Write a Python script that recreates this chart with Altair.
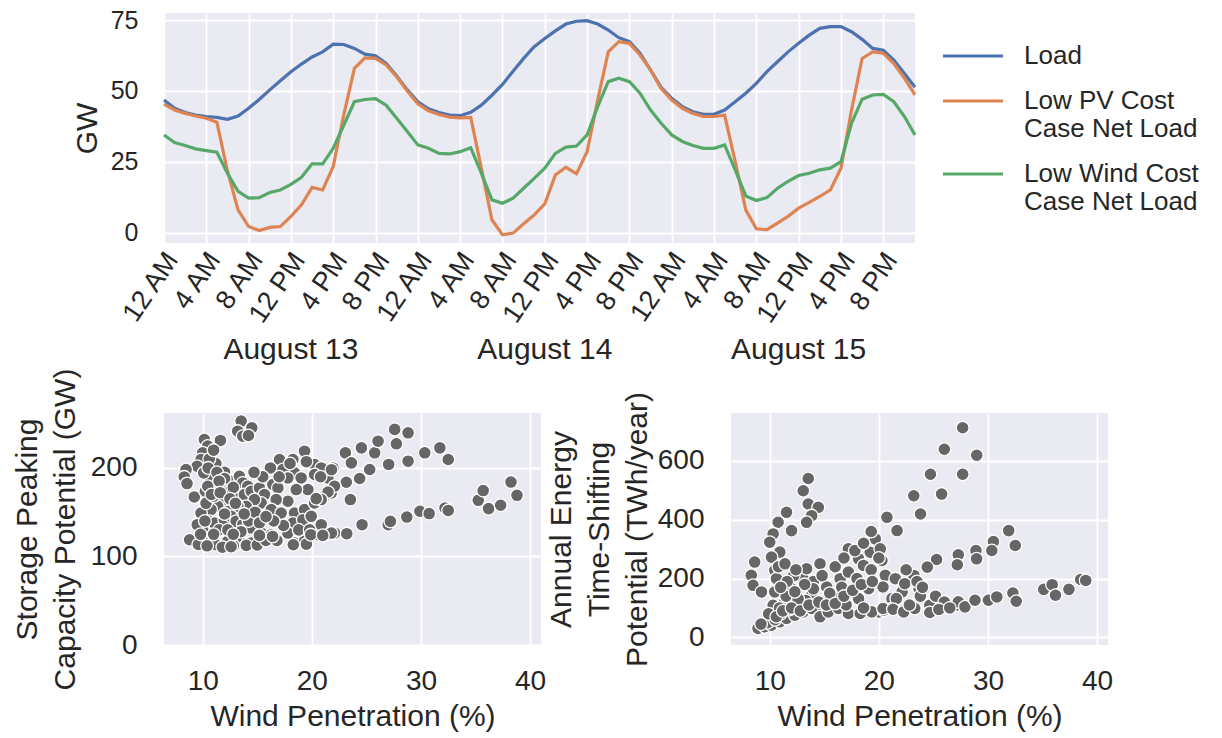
import altair as alt
import pandas as pd

# ---------------- top chart data ----------------
HOURS = list(range(72))
LOAD = [46.8, 43.9, 42.4, 41.5, 41.0, 40.7, 40.0, 41.2, 43.9, 47.0, 50.4, 53.6,
        56.8, 59.5, 62.0, 63.8, 66.5, 66.4, 65.0, 63.0, 62.4, 59.7, 55.3, 50.4,
        46.2, 43.7, 42.4, 41.5, 41.3, 42.5, 45.0, 48.5, 52.3, 57.0, 61.5, 65.6,
        68.5, 71.2, 73.6, 74.6, 74.8, 73.6, 71.5, 68.8, 67.4, 63.3, 57.4, 51.3,
        47.4, 44.5, 42.7, 41.8, 41.8, 43.3, 46.2, 49.2, 52.7, 56.8, 60.3, 63.8,
        66.8, 69.7, 72.1, 72.7, 72.7, 70.9, 68.2, 65.0, 64.4, 60.9, 56.2, 51.3]
PV = [45.4, 43.3, 42.1, 41.2, 40.4, 39.0, 21.8, 8.1, 2.2, 0.8, 1.9, 2.2,
      5.8, 9.9, 16.0, 15.1, 23.4, 41.7, 58.0, 61.7, 61.5, 59.2, 55.0, 50.0,
      45.5, 43.0, 41.7, 40.8, 40.5, 40.7, 22.8, 4.6, -0.7, -0.1, 3.2, 6.3,
      10.2, 20.4, 23.1, 20.8, 28.6, 46.8, 63.8, 67.4, 66.8, 62.7, 57.4, 50.9,
      46.8, 43.9, 42.1, 41.0, 41.0, 41.5, 25.2, 8.1, 1.4, 1.1, 3.4, 5.8,
      8.7, 10.7, 12.8, 15.1, 22.8, 43.3, 61.5, 63.8, 63.3, 59.7, 54.5, 48.6]
WIND = [34.5, 31.8, 30.8, 29.6, 29.0, 28.4, 21.0, 14.6, 12.2, 12.4, 14.2, 15.1,
        17.1, 19.6, 24.3, 24.3, 29.8, 38.0, 46.2, 47.0, 47.3, 45.0, 40.4, 35.7,
        31.0, 29.8, 28.0, 27.8, 28.6, 30.0, 21.0, 11.6, 10.4, 12.2, 15.7, 19.2,
        22.8, 28.0, 30.2, 30.6, 34.5, 44.5, 53.3, 54.5, 53.3, 49.2, 43.3, 38.6,
        34.5, 32.2, 30.8, 29.8, 29.8, 31.0, 22.2, 13.0, 11.4, 12.4, 15.7, 18.1,
        20.2, 21.0, 22.2, 22.8, 25.1, 38.6, 47.1, 48.6, 48.8, 46.2, 41.0, 34.5]
SERIES = ["Load", "Low PV Cost|Case Net Load", "Low Wind Cost|Case Net Load"]
COLORS = ["#4C72B0", "#DD8452", "#55A868"]
HOUR_TICKS = list(range(0, 72, 4))
TICK_LABELS = ["12 AM", "4 AM", "8 AM", "12 PM", "4 PM", "8 PM"]
DAY_LABELS = ["August 13", "August 14", "August 15"]
DAY_CENTERS = [12, 36, 60]
GW_TICKS = [0, 25, 50, 75]

# ---------------- scatter data ----------------
PEN_L = [13.52, 14.5, 13.2, 13.67, 14.19,
         10.15, 11.62, 10.46, 10.0, 9.84, 9.48, 8.47, 8.31, 8.56, 9.23, 10.76, 10.09, 10.24, 10.46,
         11.68, 12.6, 13.36, 13.67, 14.13, 13.21, 13.82, 14.44, 15.2, 15.66, 16.43, 16.89, 15.36, 14.74,
         13.98, 13.21, 12.29, 11.98, 11.37, 10.76, 10.61, 11.07, 11.98, 12.6, 13.06, 13.67, 14.44, 15.36,
         16.28, 10.76, 9.23, 10.15, 11.22, 12.29, 13.52, 14.44, 13.06,
         17.04, 18.26, 19.33, 20.25, 20.86, 21.93, 18.41, 17.34, 17.8, 19.02, 20.25, 21.47, 19.64, 18.57,
         17.8, 16.73, 16.28, 17.19, 18.41, 19.33, 20.25, 21.17, 21.78, 18.26, 19.18, 19.94, 18.41, 19.33,
         20.55, 21.47, 22.08, 20.86, 17.8,
         9.84, 10.0, 9.5, 8.8, 9.6, 11.8, 12.8, 14.0, 15.0, 10.3, 11.0, 12.3, 12.0, 11.2, 10.6, 11.0,
         10.5, 11.3, 12.0, 12.8, 11.5, 10.8, 11.6, 12.5, 13.0, 12.0, 11.5, 12.3, 13.5, 14.2, 14.8, 15.2,
         13.8, 12.8, 11.0, 10.2, 9.8, 10.4, 12.6, 15.8, 16.8, 17.4, 16.5, 15.8, 18.8, 19.8, 17.0, 18.0,
         19.5, 20.8, 16.2, 15.5, 14.7,
         23.07, 24.54, 25.76, 26.07, 27.59, 28.82, 27.75, 27.04, 28.82, 30.35, 31.73, 32.5, 23.62, 25.3,
         24.38, 23.16, 22.08, 21.48, 20.86, 20.4, 23.53, 21.8,
         21.8, 23.2, 24.6, 27.0, 27.2, 28.7, 29.9, 30.75, 32.2, 32.5, 16.4, 15.2, 18.3, 19.5, 19.9, 21.0,
         35.25, 35.7, 36.2, 37.3, 38.25, 38.8]
PEAK_GW = [252.9, 245.3, 241.5, 235.8, 236.6,
           232.1, 231.0, 224.6, 217.0, 209.5, 201.9, 198.1, 189.8, 182.3, 167.2, 186.8, 194.4, 173.6, 179.3,
           179.3, 185.0, 190.6, 183.0, 179.3, 169.9, 169.9, 173.6, 177.4, 169.9, 181.2, 177.4, 160.4, 164.2,
           156.6, 156.6, 152.9, 164.2, 156.6, 152.9, 139.6, 137.7, 141.5, 145.3, 139.6, 135.9, 132.1, 126.4,
           124.5, 122.7, 117.0, 115.1, 113.2, 117.0, 115.1, 115.1, 120.8,
           209.5, 209.5, 218.9, 203.8, 200.0, 200.0, 194.4, 198.2, 188.7, 188.7, 192.5, 188.7, 175.5, 175.5,
           162.3, 164.2, 152.9, 149.1, 149.1, 152.9, 160.4, 168.0, 171.7, 137.7, 141.5, 145.3, 115.1, 117.0,
           124.5, 126.4, 126.4, 135.9, 126.4,
           149.0, 130.0, 135.9, 118.9, 113.5, 110.5, 112.0, 112.5, 113.0, 160.0, 168.0, 172.0, 195.0, 205.0, 210.0, 220.0,
           200.0, 195.0, 188.0, 178.0, 185.0, 170.0, 172.0, 165.0, 160.0, 148.0, 130.0, 130.0, 128.0, 140.0, 150.0, 138.0,
           148.0, 125.0, 125.0, 140.0, 125.0, 112.0, 111.0, 118.0, 118.0, 135.0, 140.0, 145.0, 130.0, 130.0, 190.0, 205.0,
           207.0, 190.0, 200.0, 190.0, 195.0,
           217.0, 222.6, 217.0, 230.2, 243.5, 239.6, 227.2, 203.9, 207.6, 217.0, 222.6, 209.5, 205.7, 198.2,
           188.0, 183.8, 179.3, 172.8, 164.2, 165.3, 164.2, 198.0,
           126.4, 125.7, 135.9, 135.9, 139.6, 144.5, 151.0, 148.4, 154.7, 152.0, 122.6, 123.8, 113.2, 113.9, 124.6, 123.8,
           163.4, 174.4, 154.0, 157.8, 184.0, 169.0]

PEN_R = [13.53, 13.07, 13.53, 14.45, 13.84, 13.38,
         11.54, 10.77, 12.0, 10.31, 10.0, 10.92, 10.16, 8.62, 8.31, 8.47, 9.24, 10.46, 10.62,
         10.46, 10.31, 11.38, 12.0, 13.07, 13.38, 14.61, 15.22, 13.84, 14.15, 15.37, 16.3, 16.45, 17.21,
         18.14, 18.59, 19.21, 19.67, 20.13, 20.28, 20.74, 21.67, 20.59, 21.51, 22.13, 21.2, 19.98, 18.14,
         19.06, 17.21, 17.21, 15.68,
         8.93, 9.54, 10.16, 10.92, 11.54, 12.3, 13.07, 13.84, 14.61, 15.37, 16.3, 17.21, 18.29, 19.36, 20.44, 21.2,
         27.68, 26.0, 28.97, 24.73, 27.68, 23.2, 25.75, 23.82, 31.9, 32.5, 30.5, 30.35, 28.9, 28.96, 27.28,
         27.19, 25.29, 24.44, 23.21, 23.69, 20.38, 22.37, 21.6, 20.38, 21.3, 22.28, 23.29, 24.67, 24.67,
         27.07, 27.28, 27.89, 28.81, 30.04, 30.81, 32.28, 32.59, 35.11, 35.88, 36.19, 37.42, 38.5, 38.96,
         9.8, 10.5, 11.0, 11.8, 12.5, 13.3, 11.5, 12.6, 9.9, 10.9, 12.2, 11.6, 14.0, 14.8, 16.0, 16.8,
         17.8, 18.6, 19.3, 15.5, 16.6, 18.0, 19.3, 17.0, 18.6, 22.5, 20.0,
         9.2, 10.6, 11.2, 12.0, 12.8, 13.6, 14.5, 15.2, 16.0, 16.8, 17.6, 18.4, 19.4, 14.0, 13.2, 12.3,
         11.0, 10.8, 11.4, 12.4, 22.8, 23.8, 25.2, 26.0, 25.5, 26.5, 23.5, 24.0]
SHIFT_TWH = [540.2, 498.5, 453.4, 442.2, 413.9, 391.3,
             425.3, 391.4, 363.0, 351.8, 323.6, 289.8, 272.9, 256.0, 210.9, 176.9, 154.4, 227.8, 199.6,
             154.4, 109.3, 120.6, 165.7, 199.6, 233.4, 250.3, 171.3, 143.1, 98.0, 131.8, 131.8, 199.6, 301.1,
             267.1, 244.6, 289.7, 334.8, 301.0, 261.5, 408.2, 363.1, 210.9, 199.6, 154.4, 131.8, 86.7, 131.8,
             165.7, 222.1, 154.4, 98.0,
             30.3, 36.0, 41.6, 52.9, 64.2, 75.4, 86.7, 98.0, 69.8, 86.7, 98.0, 81.1, 81.1, 86.7, 92.4, 98.0,
             712.7, 639.7, 619.4, 554.8, 554.8, 481.6, 487.3, 419.4, 363.0, 312.3, 325.8, 295.3, 295.3, 267.1, 280.6,
             246.8, 264.8, 238.8, 210.7, 165.7, 171.3, 182.6, 131.8, 98.0, 95.7, 86.7, 98.0, 109.3, 84.5,
             109.3, 120.6, 103.7, 126.3, 126.3, 137.5, 150.9, 122.7, 163.2, 179.2, 143.1, 163.2, 197.0, 193.6,
             50.0, 60.0, 80.0, 95.0, 110.0, 125.0, 140.0, 130.0, 80.0, 100.0, 210.0, 190.0, 190.0, 210.0, 240.0, 270.0,
             295.0, 320.0, 360.0, 150.0, 170.0, 200.0, 230.0, 110.0, 100.0, 230.0, 270.0,
             45.0, 70.0, 90.0, 100.0, 90.0, 110.0, 120.0, 110.0, 115.0, 140.0, 160.0, 180.0, 190.0, 165.0, 180.0, 155.0,
             170.0, 240.0, 250.0, 230.0, 110.0, 140.0, 140.0, 120.0, 95.0, 100.0, 190.0, 170.0]

FONT = "Liberation Sans"
TEXT = "#262626"
BG = "#EAEAF2"

# ---------------- top chart ----------------
rows = []
for name, vals in zip(SERIES, [LOAD, PV, WIND]):
    for h, v in zip(HOURS, vals):
        rows.append({"hour": h, "GW": v, "series": name})
df = pd.DataFrame(rows)

label_array = "[" + ",".join("'%s'" % t for t in TICK_LABELS) + "]"


def build(legend_encode):
    x_top = alt.X("hour:Q",
                  scale=alt.Scale(domain=[0, 71], nice=False, zero=False),
                  axis=alt.Axis(values=HOUR_TICKS,
                                labelExpr=label_array + "[floor((datum.value % 24) / 4)]",
                                labelAngle=-56, labelAlign="right", labelBaseline="middle",
                                labelPadding=12, labelOffset=8, labelFontSize=27,
                                labelOverlap=False, title=None))
    legend_kw = dict(title=None, orient="none", legendX=777, legendY=11,
                     symbolType="stroke", symbolSize=3600, symbolStrokeWidth=3.2,
                     labelFontSize=26, labelFont=FONT, labelColor=TEXT,
                     labelLimit=400, labelOffset=19, rowPadding=-10,
                     labelExpr="split(datum.label, '|')")
    if legend_encode is not None:
        legend_kw["encode"] = legend_encode

    lines = alt.Chart(df).mark_line(strokeWidth=3.2).encode(
        x=x_top,
        y=alt.Y("GW:Q", scale=alt.Scale(domain=[-3.6, 77.5], nice=False, zero=False),
                axis=alt.Axis(values=GW_TICKS, title="GW", labelPadding=26, titlePadding=8,
                              labelFontSize=25)),
        color=alt.Color("series:N",
                        scale=alt.Scale(domain=SERIES, range=COLORS),
                        legend=alt.Legend(**legend_kw)),
    )

    days = alt.Chart(pd.DataFrame({"hour": DAY_CENTERS, "day": DAY_LABELS})).mark_text(
        fontSize=30, font=FONT, color=TEXT, align="center", baseline="middle"
    ).encode(x=alt.X("hour:Q"), y=alt.value(337), text="day:N")

    top = alt.layer(lines, days).properties(width=751, height=230)

    def scatter(xs, ys, ytitle, ydomain, yticks, tpad):
        d = pd.DataFrame({"pen": xs, "val": ys})
        return alt.Chart(d).mark_circle(size=165, color="#666666", opacity=1,
                                        stroke="white", strokeWidth=1.3).encode(
            x=alt.X("pen:Q", scale=alt.Scale(domain=[6.45, 41.0], nice=False, zero=False),
                    axis=alt.Axis(values=[10, 20, 30, 40], title="Wind Penetration (%)",
                                  labelPadding=22, titlePadding=6, labelFontSize=28)),
            y=alt.Y("val:Q", scale=alt.Scale(domain=ydomain, nice=False, zero=False),
                    axis=alt.Axis(values=yticks, title=ytitle, labelPadding=27,
                                  titlePadding=tpad, titleLineHeight=38, labelFontSize=28)),
        ).properties(width=377, height=232)

    left = scatter(PEN_L, PEAK_GW, ["Storage Peaking", "Capacity Potential (GW)"],
                   [0, 262], [0, 100, 200], 10)
    right = scatter(PEN_R, SHIFT_TWH, ["Annual Energy", "Time-Shifting", "Potential (TWh/year)"],
                    [-26, 763], [0, 200, 400, 600], 5)

    bottom = alt.hconcat(left, right, spacing=0)

    return alt.vconcat(top, bottom, spacing=3).properties(
        padding={"left": 12, "top": 8, "right": 5, "bottom": 2}
    ).configure(
        font=FONT, background="white"
    ).configure_view(
        fill=BG, strokeWidth=0
    ).configure_axis(
        labelFont=FONT, titleFont=FONT, labelColor=TEXT, titleColor=TEXT,
        labelFontSize=25, titleFontSize=30, titleFontWeight="normal",
        gridColor="white", gridWidth=1.8, domain=False, ticks=False
    )


COND_DY = {"condition": {"test": "indexof(datum.value, '|') >= 0", "value": -14}, "value": 0}
chart = None
for enc in [{"labels": {"dy": COND_DY}}, {"labels": {"update": {"dy": COND_DY}}}, None]:
    try:
        c = build(enc)
        c.to_dict()
        chart = c
        break
    except Exception:
        continue

chart.save("out.html", embed_options={"renderer": "svg", "actions": False})
